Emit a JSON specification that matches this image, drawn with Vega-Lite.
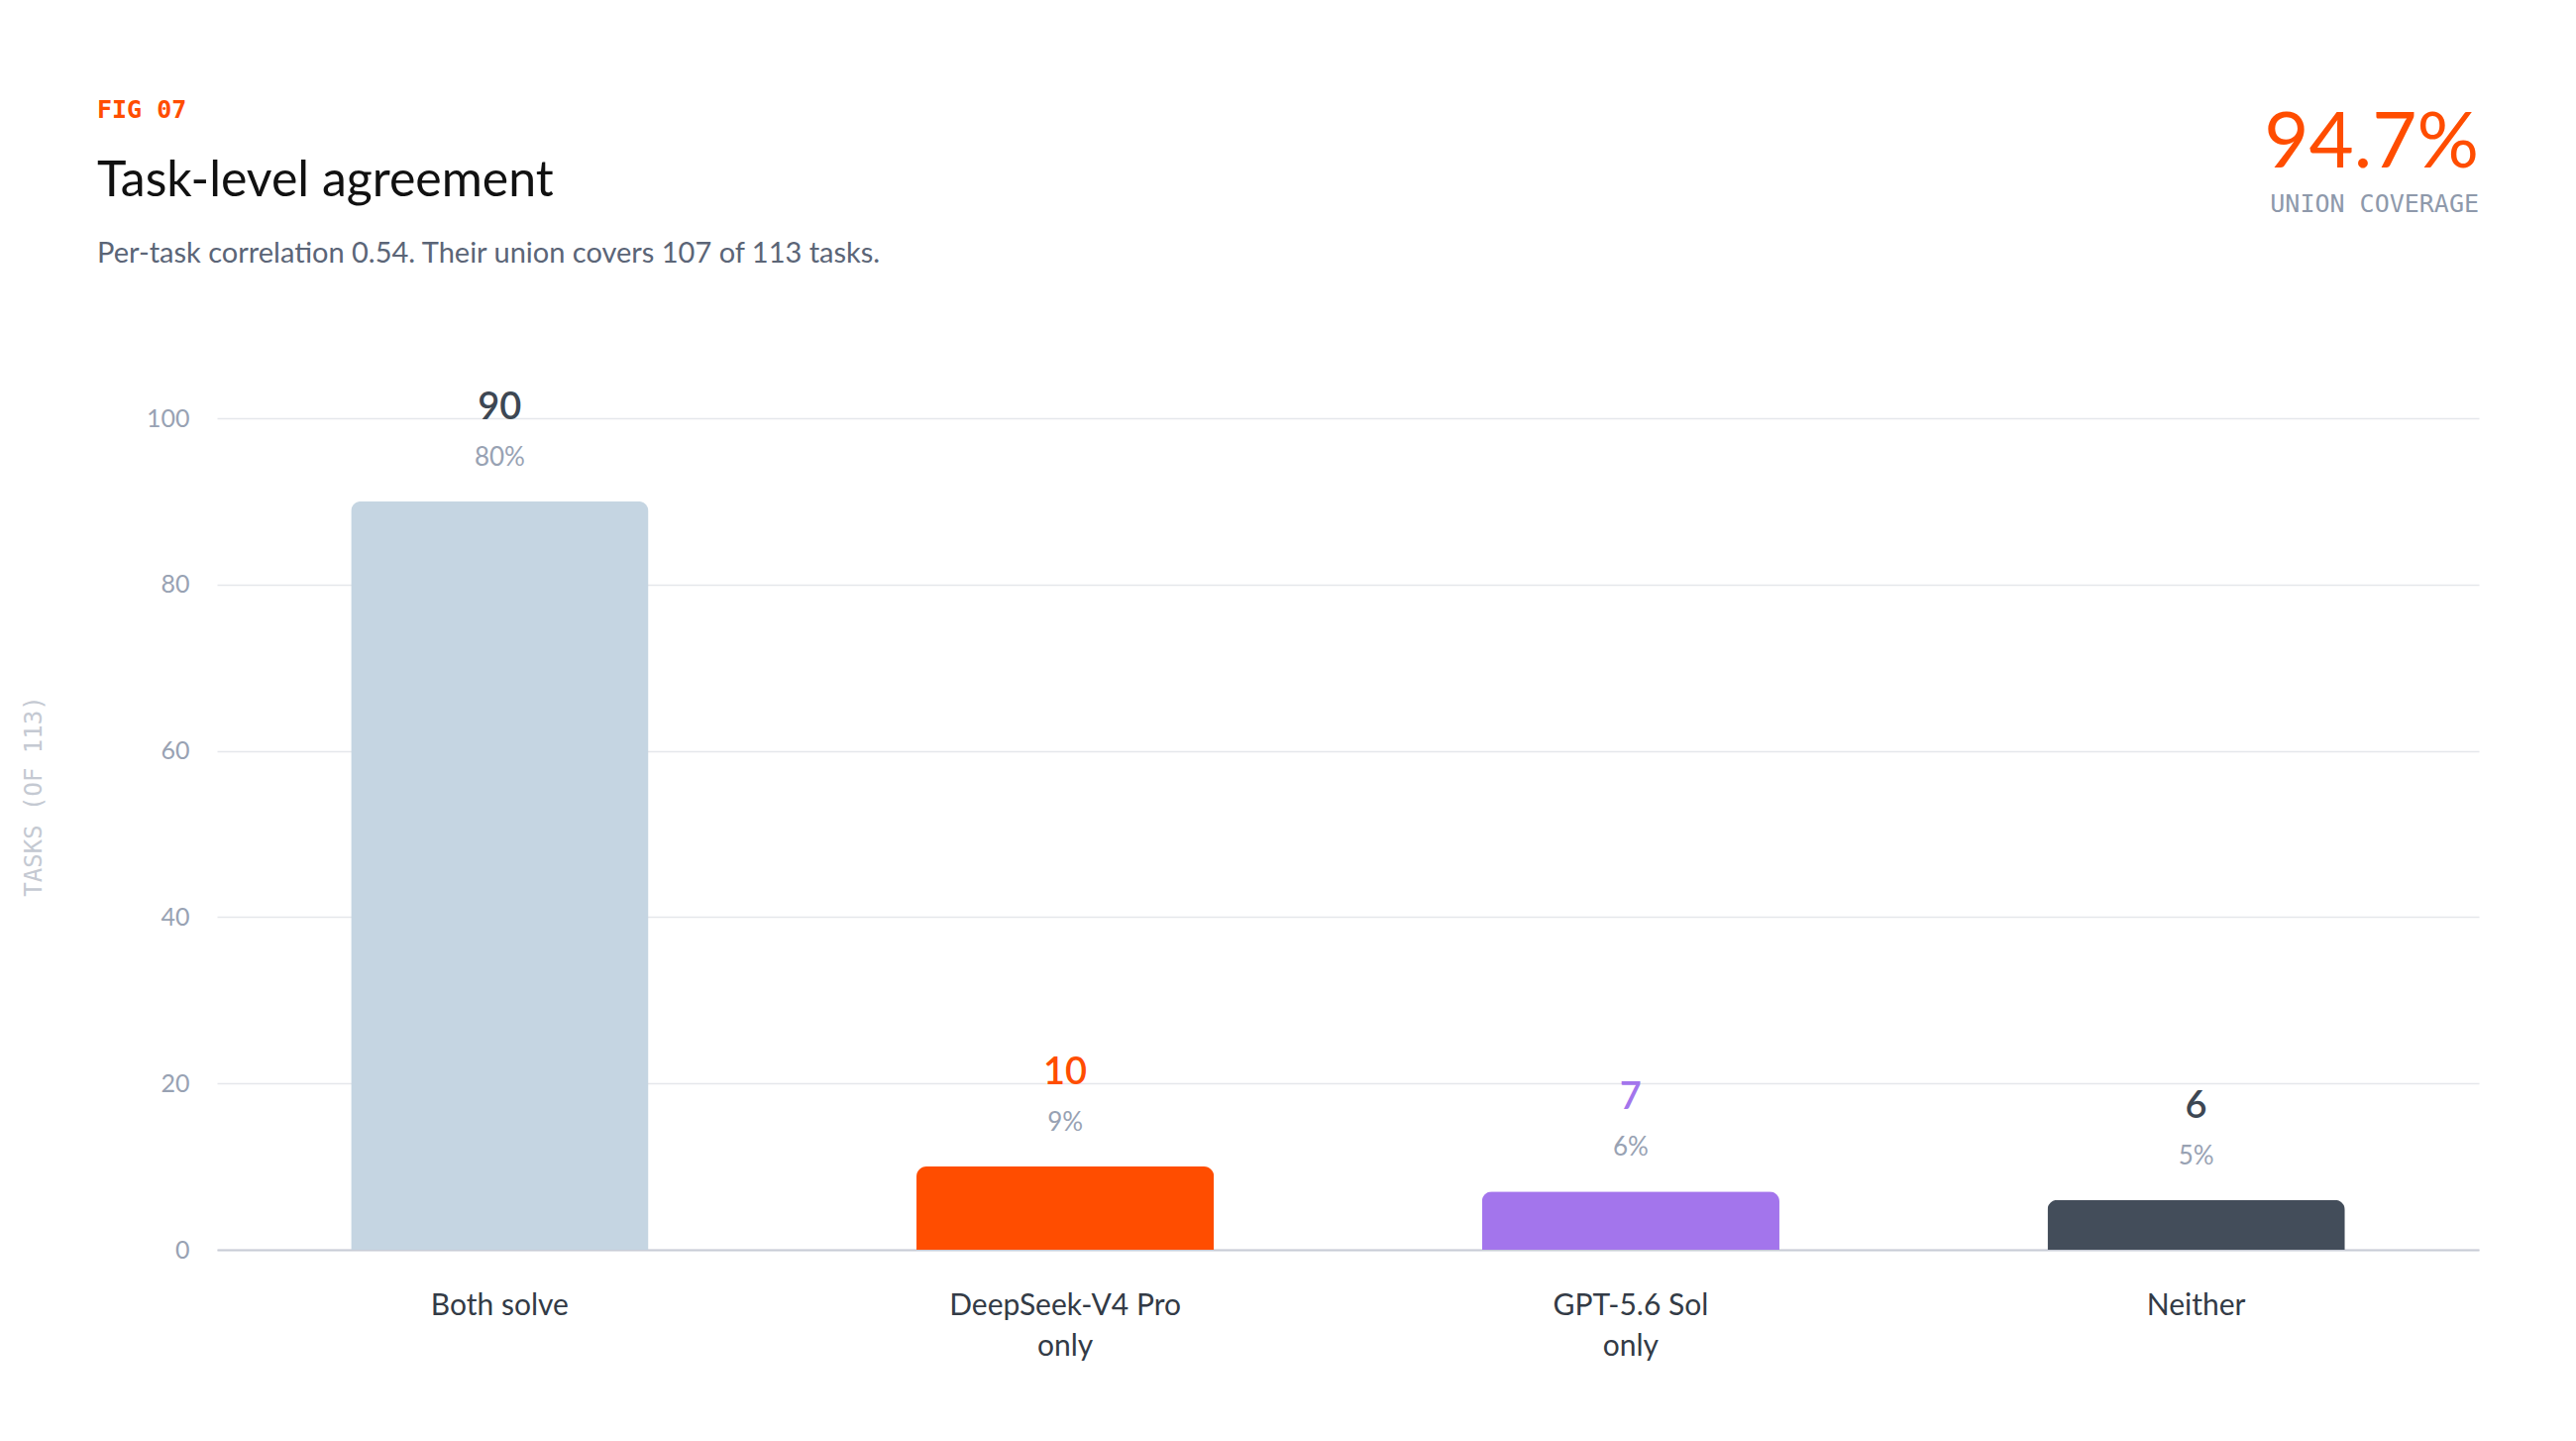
{
  "$schema": "https://vega.github.io/schema/vega-lite/v6.json",
  "background": "#ffffff",
  "autosize": {"type": "pad"},
  "padding": {"left": 22, "top": 98, "right": 60, "bottom": 60},
  "title": {
    "text": "FIG 07",
    "anchor": "start",
    "frame": "bounds",
    "font": "DejaVu Sans Mono",
    "fontSize": 25,
    "fontWeight": "bold",
    "color": "#ff4d00",
    "dx": 76,
    "offset": -17
  },
  "vconcat": [
    {
      "title": {
        "text": "Task-level agreement",
        "subtitle": "Per-task correlation 0.54. Their union covers 107 of 113 tasks.",
        "anchor": "start",
        "frame": "bounds",
        "font": "Lato",
        "fontSize": 50,
        "fontWeight": 400,
        "color": "#111111",
        "subtitleFont": "Lato",
        "subtitleFontSize": 29,
        "subtitleColor": "#5b6577",
        "subtitlePadding": 34,
        "dx": 76,
        "offset": -164
      },
      "vconcat": [
        {
          "title": {
            "text": "94.7%",
            "subtitle": "UNION COVERAGE",
            "anchor": "end",
            "frame": "group",
            "font": "Lato",
            "fontSize": 78,
            "fontWeight": 400,
            "color": "#ff4d00",
            "subtitleFont": "DejaVu Sans Mono",
            "subtitleFontSize": 25,
            "subtitleColor": "#8e99ab",
            "subtitlePadding": 9,
            "offset": 174
          },
          "width": 2283,
          "height": 839,
          "data": {
            "values": [
              {"group": "Both solve", "tasks": 90, "pct": "80%"},
              {"group": "DeepSeek-V4 Pro only", "tasks": 10, "pct": "9%"},
              {"group": "GPT-5.6 Sol only", "tasks": 7, "pct": "6%"},
              {"group": "Neither", "tasks": 6, "pct": "5%"}
            ]
          },
          "encoding": {
            "x": {
              "field": "group",
              "type": "nominal",
              "sort": null,
              "scale": {"paddingInner": 0.474, "paddingOuter": 0.237},
              "axis": {
                "title": null,
                "labelAngle": 0,
                "labelFont": "Lato",
                "labelFontSize": 30,
                "labelColor": "#333b46",
                "labelPadding": 41,
                "labelLineHeight": 41,
                "labelLimit": 600,
                "labelExpr": "indexof(datum.label, ' only') > 0 ? [replace(datum.label, ' only', ''), 'only'] : datum.label",
                "ticks": false,
                "tickSize": 0,
                "domainColor": "#c8ccd6",
                "domainWidth": 2,
                "grid": false
              }
            },
            "y": {
              "field": "tasks",
              "type": "quantitative",
              "scale": {"domain": [0, 100], "nice": false},
              "axis": {
                "values": [0, 20, 40, 60, 80, 100],
                "grid": true,
                "gridColor": "#e5e7eb",
                "gridWidth": 1.5,
                "domain": false,
                "ticks": false,
                "tickSize": 0,
                "labelPadding": 28,
                "labelFont": "Lato",
                "labelFontSize": 25,
                "labelColor": "#98a2b3",
                "title": "TASKS (OF 113)",
                "titleFont": "DejaVu Sans Mono",
                "titleFontSize": 24,
                "titleFontWeight": 400,
                "titleColor": "#c4c9d2",
                "titleX": -185,
                "titleY": 381,
                "titleAngle": 270,
                "titleAlign": "center",
                "titleBaseline": "middle"
              }
            }
          },
          "layer": [
            {
              "mark": {"type": "bar", "cornerRadiusTopLeft": 10, "cornerRadiusTopRight": 10},
              "encoding": {
                "color": {
                  "field": "group",
                  "type": "nominal",
                  "sort": null,
                  "scale": {"range": ["#c5d5e2", "#ff4d00", "#a375ec", "#434d5a"]},
                  "legend": null
                }
              }
            },
            {
              "mark": {"type": "text", "baseline": "alphabetic", "dy": -83, "font": "Lato", "fontSize": 38, "fontWeight": 600},
              "encoding": {
                "text": {"field": "tasks", "type": "quantitative"},
                "color": {
                  "field": "group",
                  "type": "nominal",
                  "sort": null,
                  "scale": {"range": ["#3d4753", "#ff4d00", "#a375ec", "#3d4753"]},
                  "legend": null
                }
              }
            },
            {
              "mark": {"type": "text", "baseline": "alphabetic", "dy": -36, "font": "Lato", "fontSize": 26, "color": "#98a2b3"},
              "encoding": {
                "text": {"field": "pct", "type": "nominal"}
              }
            }
          ],
          "resolve": {"scale": {"color": "independent"}}
        }
      ]
    }
  ],
  "config": {
    "view": {"stroke": null},
    "concat": {"spacing": 0}
  }
}
